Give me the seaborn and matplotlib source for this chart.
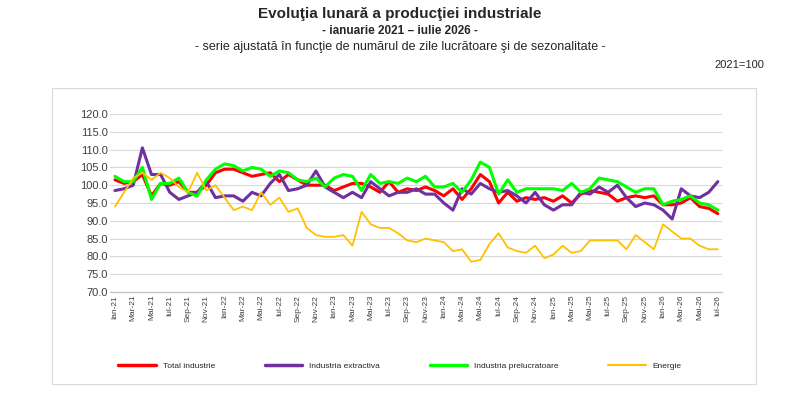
import matplotlib
matplotlib.use('Agg')
import matplotlib.pyplot as plt
import seaborn as sns
import pandas as pd
import numpy as np

luni = ['Ian', 'Feb', 'Mar', 'Apr', 'Mai', 'Iun', 'Iul', 'Aug', 'Sep', 'Oct', 'Nov', 'Dec']
perioade = [f'{m}-{y:02d}' for y in range(21, 27) for m in luni][:67]

total = [101.5, 100.5, 101, 103, 97, 100.5, 100, 101, 98, 98, 100, 103.5,
         104.5, 104.5, 103.5, 102.5, 103, 103.5, 101, 103, 101.5, 100, 100, 100,
         98.5, 99.5, 100.5, 100.5, 99.5, 98, 101, 98, 99, 98.5, 99.5, 98.5,
         97, 99, 96, 99, 103, 101, 95, 98, 95.5, 96.5, 96, 96.5,
         95.5, 97, 95, 97.5, 98.5, 98, 97.5, 95.5, 96.5, 97, 96.5, 97,
         94.5, 94.5, 95, 96.5, 94, 93.5, 92]
extractiva = [98.5, 99, 100, 110.5, 103, 103, 98, 96, 97, 98, 101, 96.5,
              97, 97, 95.5, 98, 97, 100.5, 103, 98.5, 99, 100, 104, 99.5,
              98, 96.5, 98, 96.5, 101, 99, 97, 98, 98, 99, 97.5, 97.5,
              95, 93, 99, 97.5, 100.5, 99, 98, 98.5, 97, 95, 98, 94.5,
              93, 94.5, 94.5, 98, 97.5, 99.5, 98, 100, 96.5, 94, 95, 94.5,
              93, 90.5, 99, 97, 96.5, 98, 101]
prelucratoare = [102.5, 101, 101, 105, 96, 100.5, 100.5, 102, 98, 97, 101.5, 104.5,
                 106, 105.5, 104, 105, 104.5, 102.5, 104, 103.5, 101.5, 101, 102, 99.5,
                 102, 103, 102.5, 98.5, 103, 100.5, 101, 100.5, 102, 101, 102.5, 99.5,
                 99.5, 100.5, 98, 101.5, 106.5, 105, 97.5, 101.5, 98, 99, 99, 99,
                 99, 98.5, 100.5, 98, 99, 102, 101.5, 101, 99.5, 98, 99, 99,
                 94.5, 95.5, 96, 97, 95, 94.5, 93]
energie = [94, 98, 102, 103.5, 101.5, 103.5, 102, 99.5, 98, 103.5, 98.5, 100,
           96.5, 93, 94, 93, 98, 94.5, 96.5, 92.5, 93.5, 88, 86, 85.5,
           85.5, 86, 83, 92.5, 89, 88, 88, 86.5, 84.5, 84, 85, 84.5,
           84, 81.5, 82, 78.5, 79, 83.5, 86.5, 82.5, 81.5, 81, 83, 79.5,
           80.5, 83, 81, 81.5, 84.5, 84.5, 84.5, 84.5, 82, 86, 84, 82,
           89, 87, 85, 85, 83, 82, 82]

serii = {'Total industrie': (total, '#ff0000'),
         'Industria extractiva': (extractiva, '#7030a0'),
         'Industria prelucratoare': (prelucratoare, '#00ff00'),
         'Energie': (energie, '#ffc000')}

sns.set_style('white')
plt.rcParams['font.family'] = ['Liberation Sans', 'DejaVu Sans']

fig = plt.figure(figsize=(8, 4), dpi=100)
fig.text(0.5, 0.955, 'Evoluţia lunară a producţiei industriale', ha='center', fontsize=11, fontweight='bold')
fig.text(0.5, 0.915, '- ianuarie 2021 – iulie 2026 -', ha='center', fontsize=8.5, fontweight='bold')
fig.text(0.5, 0.875, '- serie ajustată în funcţie de numărul de zile lucrătoare şi de sezonalitate -', ha='center', fontsize=9)
fig.text(0.955, 0.83, '2021=100', ha='right', fontsize=8)

# chart frame
frame = plt.Rectangle((0.065, 0.04), 0.88, 0.74, transform=fig.transFigure,
                      fill=False, edgecolor='#d9d9d9', linewidth=0.8)
fig.patches.append(frame)

ax = fig.add_axes([0.138, 0.27, 0.765, 0.445])
x = np.arange(len(perioade))
df = pd.DataFrame([(perioade[i], i, nume, v[i]) for nume, (v, c) in serii.items() for i in range(len(v))],
                  columns=['luna', 'idx', 'serie', 'valoare'])
sns.lineplot(data=df, x='idx', y='valoare', hue='serie', palette={k: c for k, (v, c) in serii.items()},
             linewidth=2.2, ax=ax, legend=False)
ax.lines[3].set_linewidth(1.3)

ax.set_ylim(70, 120)
ax.set_yticks(np.arange(70, 121, 5))
ax.set_yticklabels([f'{t:.1f}' for t in np.arange(70, 121, 5)], fontsize=8, color='#404040')
ax.set_xlim(-0.5, len(perioade) - 0.5)
ax.set_xticks(x[::2])
ax.set_xticklabels(perioade[::2], rotation=90, fontsize=6, color='#404040')
ax.set_xlabel('')
ax.set_ylabel('')
ax.grid(axis='y', color='#d9d9d9', linewidth=0.8)
for s in ['top', 'right', 'left']:
    ax.spines[s].set_visible(False)
ax.spines['bottom'].set_color('#bfbfbf')
ax.tick_params(axis='both', length=0, pad=2)

handles = [plt.Line2D([], [], color=c, linewidth=2.5 if n != 'Energie' else 1.5) for n, (v, c) in serii.items()]
fig.legend(handles, list(serii.keys()), loc='center', bbox_to_anchor=(0.5, 0.085), ncol=4,
           frameon=False, fontsize=6, handlelength=4.5, columnspacing=6)

fig.savefig('out.png', dpi=100, facecolor='white')
